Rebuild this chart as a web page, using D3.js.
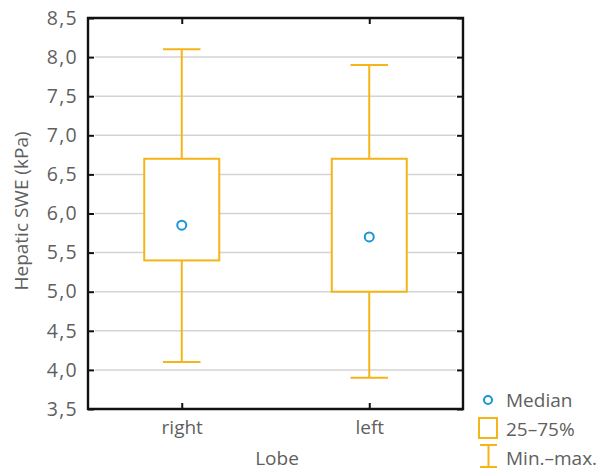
<!DOCTYPE html>
<html><head><meta charset="utf-8">
<script src="https://cdn.jsdelivr.net/npm/d3@7"></script>
<style>body{margin:0;background:#fff}svg{display:block}text{font-family:"Open Sans",sans-serif}</style>
</head><body>
<svg id="c" width="611" height="470"></svg>
<script>
const categories = ["right", "left"];
const minVals = [4.1, 3.9];
const q1Vals = [5.4, 5.0];
const medianVals = [5.85, 5.7];
const q3Vals = [6.7, 6.7];
const maxVals = [8.1, 7.9];
const yTicks = [3.5, 4.0, 4.5, 5.0, 5.5, 6.0, 6.5, 7.0, 7.5, 8.0, 8.5];
const yTickLabels = ["3,5","4,0","4,5","5,0","5,5","6,0","6,5","7,0","7,5","8,0","8,5"];
const legendLabels = ["Median", "25–75%", "Min.–max."];

const orange = "#f5b417", blue = "#1a96d4", grey = "#5f5f5f";
const svg = d3.select("#c");
const L = 88, R = 463, T = 18, B = 409;
const x = d3.scalePoint().domain(categories).range([L, R]).padding(0.5);
const y = d3.scaleLinear().domain([3.5, 8.5]).range([B, T]);

// gridlines
svg.append("g").selectAll("line").data(yTicks.slice(1, -1)).join("line")
  .attr("x1", L + 7).attr("x2", R - 7)
  .attr("y1", d => y(d)).attr("y2", d => y(d))
  .attr("stroke", "#d3d3d3").attr("stroke-width", 1.5);

// left axis
const yAxis = d3.axisLeft(y).tickValues(yTicks).tickSize(-6).tickPadding(10)
  .tickFormat((d, i) => yTickLabels[i]);
const gy = svg.append("g").attr("transform", `translate(${L},0)`).call(yAxis);
gy.select(".domain").remove();
gy.selectAll("line").attr("stroke", "#111").attr("stroke-width", 2);
gy.selectAll("text").attr("fill", grey).style("font-size", "19.5px").attr("letter-spacing", "1.3px");
// right ticks
const gr = svg.append("g").attr("transform", `translate(${R},0)`).call(d3.axisRight(y).tickValues(yTicks).tickSize(-6).tickFormat(""));
gr.select(".domain").remove();
gr.selectAll("line").attr("stroke", "#111").attr("stroke-width", 2);
// bottom axis
const gx = svg.append("g").attr("transform", `translate(0,${B})`).call(d3.axisBottom(x).tickSize(-6).tickPadding(12));
gx.select(".domain").remove();
gx.selectAll("line").attr("stroke", "#111").attr("stroke-width", 2);
gx.selectAll("text").attr("fill", grey).style("font-size", "19px");
const gt = svg.append("g").attr("transform", `translate(0,${T})`).call(d3.axisTop(x).tickSize(-6).tickFormat(""));
gt.select(".domain").remove();
gt.selectAll("line").attr("stroke", "#111").attr("stroke-width", 2);

// frame
svg.append("path").attr("d", `M${L},${T}H${R}V${B}H${L}Z`).attr("fill", "none").attr("stroke", "#111").attr("stroke-width", 2.4);

// boxes
const bw = (R - L) * 0.2, cw = bw / 2;
const g = svg.append("g").selectAll("g").data(categories).join("g");
g.append("line").attr("x1", d => x(d)).attr("x2", d => x(d))
  .attr("y1", (d, i) => y(maxVals[i])).attr("y2", (d, i) => y(q3Vals[i]))
  .attr("stroke", orange).attr("stroke-width", 2);
g.append("line").attr("x1", d => x(d)).attr("x2", d => x(d))
  .attr("y1", (d, i) => y(q1Vals[i])).attr("y2", (d, i) => y(minVals[i]))
  .attr("stroke", orange).attr("stroke-width", 2);
g.append("line").attr("x1", d => x(d) - cw / 2).attr("x2", d => x(d) + cw / 2)
  .attr("y1", (d, i) => y(maxVals[i])).attr("y2", (d, i) => y(maxVals[i]))
  .attr("stroke", orange).attr("stroke-width", 2);
g.append("line").attr("x1", d => x(d) - cw / 2).attr("x2", d => x(d) + cw / 2)
  .attr("y1", (d, i) => y(minVals[i])).attr("y2", (d, i) => y(minVals[i]))
  .attr("stroke", orange).attr("stroke-width", 2);
g.append("rect").attr("x", d => x(d) - bw / 2).attr("width", bw)
  .attr("y", (d, i) => y(q3Vals[i])).attr("height", (d, i) => y(q1Vals[i]) - y(q3Vals[i]))
  .attr("fill", "#fff").attr("stroke", orange).attr("stroke-width", 2);
g.append("circle").attr("cx", d => x(d)).attr("cy", (d, i) => y(medianVals[i])).attr("r", 4.5)
  .attr("fill", "#fff").attr("stroke", blue).attr("stroke-width", 2);

// axis titles
svg.append("text").attr("transform", "translate(28,211) rotate(-90)").attr("text-anchor", "middle")
  .attr("fill", grey).style("font-size", "19px").text("Hepatic SWE (kPa)");
svg.append("text").attr("x", 277).attr("y", 465).attr("text-anchor", "middle")
  .attr("fill", grey).style("font-size", "19px").text("Lobe");

// legend
const lg = svg.append("g");
lg.append("circle").attr("cx", 488).attr("cy", 400).attr("r", 4).attr("fill", "#fff").attr("stroke", blue).attr("stroke-width", 2);
lg.append("rect").attr("x", 479).attr("y", 418).attr("width", 18).attr("height", 20).attr("fill", "none").attr("stroke", orange).attr("stroke-width", 2);
lg.append("path").attr("d", "M480,445H497M488.5,445V467M480,467H497").attr("fill", "none").attr("stroke", orange).attr("stroke-width", 2);
lg.selectAll("text").data(legendLabels).join("text")
  .attr("x", 506).attr("y", (d, i) => 407 + i * 29)
  .attr("fill", grey).style("font-size", "19px").text(d => d);
</script>
</body></html>
